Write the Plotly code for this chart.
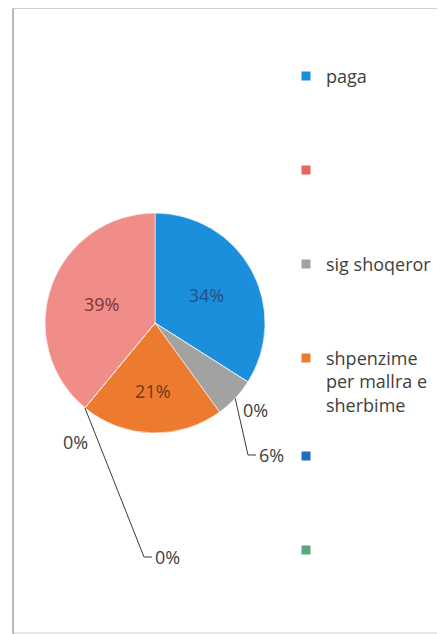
import math
import plotly.graph_objects as go

# ---------------- data ----------------
slice_names = ["paga", "", "sig shoqeror", "shpenzime per mallra e sherbime", "", "", ""]
values = [34, 0, 6, 21, 0, 0, 39]
slice_colors = ["#1b8fdc", "#e8675c", "#a2a2a2", "#ec7b30", "#1f6fbf", "#5ba87b", "#f08d88"]
inside_text_colors = ["#24507f", "#404040", "#404040", "#6e3a18", "#404040", "#404040", "#7d3434"]

legend_labels = ["paga", "", "sig shoqeror", "shpenzime<br>per mallra e<br>sherbime", "", ""]
legend_colors = slice_colors[:6]

# ---------------- layout constants ----------------
# positions below are in screenshot pixels; the page body adds an 8px offset
OFF = 8
W, H = 445, 634
CX, CY, R = 155 - OFF, 323 - OFF, 110
FONT = "Open Sans"
FS = 18
TXT = "#404040"

total = sum(values)
pct = [round(v / total * 100) for v in values]


def px_to_paper(x, y):
    return x / W, 1 - y / H


fig = go.Figure()

fig.add_trace(go.Pie(
    values=values,
    hovertext=slice_names,
    hoverinfo="text+percent",
    sort=False,
    direction="clockwise",
    rotation=0,
    marker=dict(colors=slice_colors, line=dict(color="rgba(255,255,255,0.6)", width=1)),
    texttemplate=[f"{p}%" for p in pct],
    textposition=["inside" if v >= 10 else "none" for v in values],
    insidetextorientation="horizontal",
    insidetextfont=dict(family=FONT, size=FS, color=inside_text_colors),
    showlegend=False,
    domain=dict(x=[(CX - R) / W, (CX + R) / W], y=[1 - (CY + R) / H, 1 - (CY - R) / H]),
))

# legend entries (first four in legend, last two in legend2)
for i, (name, col) in enumerate(zip(legend_labels, legend_colors)):
    fig.add_trace(go.Scatter(
        x=[None], y=[None], mode="markers", name=name if name else " " * (i + 1),
        marker=dict(symbol="square", size=9, color=col),
        legendgroup=f"g{i}", showlegend=True, hoverinfo="skip",
        legend="legend" if i < 4 else "legend2",
    ))

# outside labels for small slices: label position (screen px), leader line?
annotations = []
shapes = []
outside = {1: ((255, 410), False), 2: ((257, 455), True), 4: ((75, 442), False), 5: ((153, 557), True)}
cum = 0
for i, v in enumerate(values):
    mid = (cum + v / 2) / total
    cum += v
    if i not in outside:
        continue
    (lx, ly), leader = outside[i]
    lx, ly = lx - OFF, ly - OFF
    th = 2 * math.pi * mid
    ex, ey = CX + R * math.sin(th), CY - R * math.cos(th)
    if leader:
        cx_, cy_ = lx - 9, ly          # elbow corner
        p0, p1, p2 = px_to_paper(ex, ey), px_to_paper(cx_, cy_), px_to_paper(lx - 1, ly)
        shapes.append(dict(
            type="path", xref="paper", yref="paper",
            path=f"M {p0[0]},{p0[1]} L {p1[0]},{p1[1]} L {p2[0]},{p2[1]}",
            line=dict(color="#3a3a3a", width=1),
        ))
        x, y = px_to_paper(lx, ly)
        annotations.append(dict(
            x=x, y=y, xref="paper", yref="paper", text=f"{pct[i]}%",
            showarrow=False, xanchor="left", yanchor="middle",
            font=dict(family=FONT, size=FS, color=TXT),
        ))
    else:
        x, y = px_to_paper(lx, ly)
        annotations.append(dict(
            x=x, y=y, xref="paper", yref="paper", text=f"{pct[i]}%",
            showarrow=False, xanchor="center", yanchor="middle",
            font=dict(family=FONT, size=FS, color=TXT),
        ))

item_h = FS * 1.3 + 3
spacing = 94
legend_common = dict(
    font=dict(family=FONT, size=FS, color=TXT),
    bgcolor="rgba(0,0,0,0)", borderwidth=0,
    tracegroupgap=spacing - item_h, valign="top", itemclick=False, itemdoubleclick=False,
    xanchor="left", yanchor="top",
)
first_item_offset = 5 + item_h / 2
leg1_top = 76 - OFF - first_item_offset
leg2_top = 456 - OFF - first_item_offset

shapes += [
    dict(type="rect", xref="paper", yref="paper",
         x0=(13 - OFF) / W, x1=(443 - OFF) / W, y0=1 - (633 - OFF) / H, y1=1 - 0.5 / H,
         line=dict(color="#d0d0d0", width=1)),
    dict(type="line", xref="paper", yref="paper",
         x0=(13 - OFF) / W, x1=(13 - OFF) / W, y0=0, y1=1 - 0.5 / H,
         line=dict(color="#8a8a8a", width=1)),
]

fig.update_layout(
    width=W, height=H,
    margin=dict(l=0, r=0, t=0, b=0),
    paper_bgcolor="white", plot_bgcolor="white",
    xaxis=dict(visible=False), yaxis=dict(visible=False),
    legend=dict(x=278 / W, y=1 - leg1_top / H, **legend_common),
    legend2=dict(x=278 / W, y=1 - leg2_top / H, **legend_common),
    annotations=annotations,
    shapes=shapes,
)

fig.write_html("out.html")
